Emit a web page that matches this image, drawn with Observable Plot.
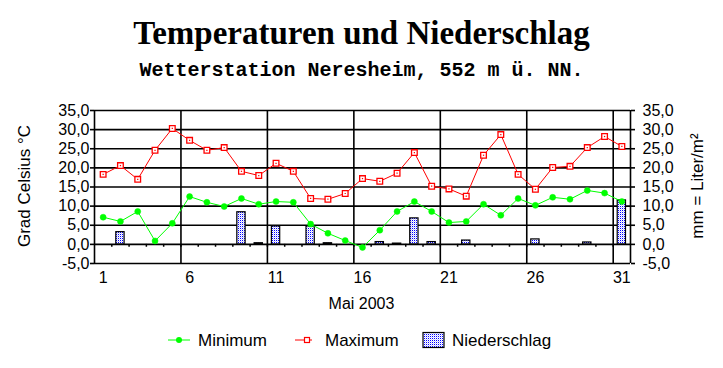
<!DOCTYPE html>
<html>
<head>
<meta charset="utf-8">
<script src="https://cdn.jsdelivr.net/npm/d3@7"></script>
<script src="https://cdn.jsdelivr.net/npm/@observablehq/plot@0.6"></script>
<style>
  html, body { margin: 0; padding: 0; background: white; }
  #wrap { position: relative; width: 723px; height: 368px; overflow: hidden; font-family: "Liberation Sans", Arial, sans-serif; color: black; }
  #chart { position: absolute; left: 0; top: 0; }
  .abs { position: absolute; white-space: nowrap; }
  #title { left: 0; width: 723px; top: 13px; text-align: center; font-family: "Liberation Serif", "Times New Roman", serif; font-weight: bold; font-size: 33px; line-height: 40px; }
  #subtitle { left: 0; width: 723px; top: 60px; text-align: center; font-family: "Liberation Mono", "Courier New", monospace; font-weight: bold; font-size: 20px; line-height: 22px; }
  .rot { transform: translate(-50%, -50%) rotate(-90deg); font-size: 17px; }
  #xlabel { left: 0; width: 723px; top: 295px; text-align: center; font-size: 16px; line-height: 18px; }
  #legend { position: absolute; left: 0; top: 320px; }
</style>
</head>
<body>
<div id="wrap">
  <div id="chart"></div>
  <div id="title" class="abs">Temperaturen und Niederschlag</div>
  <div id="subtitle" class="abs">Wetterstation Neresheim, 552 m ü. NN.</div>
  <div class="abs rot" style="left:25px; top:186px;">Grad Celsius °C</div>
  <div class="abs rot" style="left:698px; top:186px;">mm = Liter/m²</div>
  <div id="xlabel" class="abs">Mai 2003</div>
  <svg id="legend" width="723" height="40"></svg>
</div>
<script>
const days = [1,2,3,4,5,6,7,8,9,10,11,12,13,14,15,16,17,18,19,20,21,22,23,24,25,26,27,28,29,30,31];
const tMin = [7.1, 6.0, 8.6, 0.9, 5.5, 12.5, 11.0, 9.9, 12.0, 10.5, 11.2, 11.0, 5.3, 2.9, 1.0, -0.8, 3.7, 8.6, 11.2, 8.6, 5.7, 6.0, 10.5, 7.6, 12.0, 10.2, 12.3, 11.8, 14.1, 13.4, 11.2];
const tMax = [18.3, 20.6, 17.0, 24.6, 30.3, 27.2, 24.6, 25.3, 19.1, 18.0, 21.2, 19.1, 12.0, 11.8, 13.3, 17.2, 16.5, 18.6, 24.0, 15.2, 14.5, 12.6, 23.3, 28.7, 18.3, 14.4, 20.1, 20.4, 25.3, 28.2, 25.6];
const rain = [0, 3.2, 0, 0, 0, 0, 0, 0, 8.4, 0.3, 4.7, 0, 4.7, 0.3, 0, 0, 0.6, 0.2, 6.8, 0.6, 0, 1.0, 0, 0, 0, 1.3, 0, 0, 0.5, 0, 11.5];
const yTicks = [-5, 0, 5, 10, 15, 20, 25, 30, 35];
const xTickLabels = [1, 6, 11, 16, 21, 26, 31];
const seriesNames = ["Minimum", "Maximum", "Niederschlag"];

const GREEN = "#00ff00", RED = "#ff0000";
const rows = days.map((d, i) => ({day: d, min: tMin[i], max: tMax[i], rain: rain[i]}));
const boundaries = days.slice(0, -1).map(d => d + 0.5);
const gridX = [days[0] - 0.5, ...days.filter(d => d % 5 === 0).map(d => d + 0.5), days[days.length - 1] + 0.5];
const fmt = v => v.toFixed(1).replace(".", ",");

const plot = Plot.plot({
  width: 723,
  height: 368,
  marginTop: 110,
  marginBottom: 105,
  marginLeft: 94,
  marginRight: 93,
  style: {fontFamily: "'Liberation Sans', Arial, sans-serif", fontSize: "16px", color: "black", background: "white", overflow: "visible"},
  x: {domain: [days[0] - 0.5, days[days.length - 1] + 0.5]},
  y: {domain: [yTicks[0], yTicks[yTicks.length - 1]]},
  marks: [
    Plot.ruleY(yTicks, {stroke: "black", strokeWidth: 1.6}),
    Plot.ruleX(gridX, {stroke: "black", strokeWidth: 1.6}),
    Plot.ruleX(boundaries, {y1: 0, y2: -0.75, stroke: "black", strokeWidth: 1.5}),
    Plot.rectY(rows.filter(r => r.rain > 0), {x1: r => r.day - 0.24, x2: r => r.day + 0.24, y1: 0, y2: "rain", fill: "url(#dots)", stroke: "black", strokeWidth: 1.2}),
    Plot.line(rows, {x: "day", y: "max", stroke: RED, strokeWidth: 1}),
    Plot.line(rows, {x: "day", y: "min", stroke: GREEN, strokeWidth: 1}),
    Plot.dot(rows, {x: "day", y: "min", r: 3, fill: GREEN, stroke: GREEN, strokeWidth: 0.5}),
    Plot.dot(rows, {x: "day", y: "max", r: 3.2, symbol: "square", fill: "white", stroke: RED, strokeWidth: 1.3}),
    Plot.dot(rows, {x: "day", y: "max", r: 0.7, symbol: "square", fill: RED, stroke: "none"}),
    Plot.axisY(yTicks, {anchor: "left", tickSize: 4, tickPadding: 1, tickFormat: fmt, strokeWidth: 1.6, label: null, fontSize: 16}),
    Plot.axisY(yTicks, {anchor: "right", tickSize: 4, tickPadding: 8, tickFormat: fmt, strokeWidth: 1.6, label: null, fontSize: 16}),
    Plot.axisX(xTickLabels, {anchor: "bottom", tickSize: 0, tickPadding: 8, label: null, fontSize: 16})
  ]
});
document.getElementById("chart").appendChild(plot);

// dotted fill pattern for precipitation bars
const svgNS = "http://www.w3.org/2000/svg";
function addPattern(svg) {
  const defs = document.createElementNS(svgNS, "defs");
  defs.innerHTML = '<pattern id="dots" width="2" height="2" patternUnits="userSpaceOnUse">' +
    '<rect width="2" height="2" fill="white"/><rect x="0" y="0" width="1" height="1" fill="#0000ff"/>' +
    '<rect x="1" y="1" width="1" height="1" fill="#8080ff" opacity="0.4"/></pattern>';
  svg.insertBefore(defs, svg.firstChild);
}
addPattern(plot);

// legend
const lg = d3.select("#legend");
addPattern(lg.node());
lg.style("font-family", "'Liberation Sans', Arial, sans-serif").style("font-size", "17px");
const ly = 20;
lg.append("line").attr("x1", 168).attr("x2", 190).attr("y1", ly).attr("y2", ly).attr("stroke", GREEN).attr("stroke-width", 1);
lg.append("circle").attr("cx", 179).attr("cy", ly).attr("r", 3).attr("fill", GREEN);
lg.append("text").attr("x", 198).attr("y", ly + 6).text(seriesNames[0]);
lg.append("line").attr("x1", 295).attr("x2", 312).attr("y1", ly).attr("y2", ly).attr("stroke", RED).attr("stroke-width", 1);
lg.append("rect").attr("x", 304.5).attr("y", ly - 2.5).attr("width", 5).attr("height", 5).attr("fill", "white").attr("stroke", RED).attr("stroke-width", 1.2);
lg.append("text").attr("x", 325).attr("y", ly + 6).text(seriesNames[1]);
lg.append("rect").attr("x", 423).attr("y", ly - 7.5).attr("width", 21).attr("height", 15).attr("fill", "url(#dots)").attr("stroke", "black").attr("stroke-width", 1.2);
lg.append("text").attr("x", 452).attr("y", ly + 6).text(seriesNames[2]);
</script>
</body>
</html>
